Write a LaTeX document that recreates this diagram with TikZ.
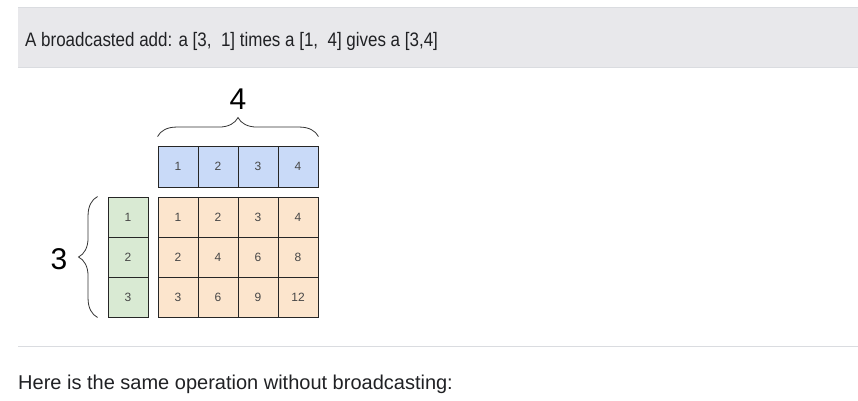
\documentclass[tikz,border=0pt]{standalone}
\usepackage{fontspec}
\setmainfont{Liberation Sans}
\usepackage{tikz}
\usetikzlibrary{positioning,decorations.pathreplacing}
\usepackage{xcolor}
\definecolor{bandgray}{HTML}{E8E8EB}
\definecolor{bandline}{HTML}{DADCE0}
\definecolor{inkgray}{HTML}{202124}
\definecolor{cellblue}{HTML}{C9DAF8}
\definecolor{cellgreen}{HTML}{D9EAD3}
\definecolor{cellorange}{HTML}{FCE5CD}

\begin{document}
\begin{tikzpicture}[x=1pt,y=-1pt,
    cell/.style={rectangle, draw=black!85, line width=0.9pt, minimum width=40pt, minimum height=40pt, inner sep=0pt, font=\fontsize{12}{12}\selectfont, text=black!72},
    bigdim/.style={font=\fontsize{30}{30}\selectfont, text=black},
    curly/.style={decorate, decoration={brace, amplitude=19pt}, line width=0.8pt, black!80}]

    \useasboundingbox (0,0) rectangle (858,400);

    % header band
    \fill[bandgray] (18,7) rectangle (858,67);
    \draw[bandline] (18,7) -- (858,7);
    \draw[bandline] (18,67) -- (858,67);
    \node[anchor=base west, inner sep=0pt, text=inkgray, font=\fontsize{19.5}{19.5}\selectfont] (head) at (25,46)
        {\scalebox{0.87}[1]{A broadcasted add: a [3,\ \ 1] times a [1,\ \ 4] gives a [3,4]}};

    % the [1,4] row
    \foreach \x/ \v in {1/1,2/2,3/3,4/4}{
        \node[cell, fill=cellblue, minimum height=41pt] (b\x) at (138+40*\x,166.5) {\v};
    }

    % the [3,1] column
    \foreach \y/ \v in {1/1,2/2,3/3}{
        \node[cell, fill=cellgreen] (g\y) at (128,177+40*\y) {\v};
    }

    % the [3,4] result
    \foreach \y in {1,2,3}{
        \foreach \x in {1,2,3,4}{
            \pgfmathtruncatemacro{\p}{\x*\y}
            \node[cell, fill=cellorange] (o\y\x) at (138+40*\x,177+40*\y) {\p};
        }
    }

    \draw[curly] ([yshift=9pt]b1.north west) -- ([yshift=9pt]b4.north east);
    \node[bigdim] (four) at (238,99) {4};

    \draw[curly] ([xshift=-10pt]g3.south west) -- ([xshift=-10pt]g1.north west);
    \node[bigdim] (three) at (59,259) {3};

    % footer
    \draw[bandline] (18,346) -- (858,346);
    \node[anchor=base west, inner sep=0pt, text=inkgray, font=\fontsize{20}{20}\selectfont] (foot) at (18,389)
        {Here is the same operation without broadcasting:};

\end{tikzpicture}
\end{document}
